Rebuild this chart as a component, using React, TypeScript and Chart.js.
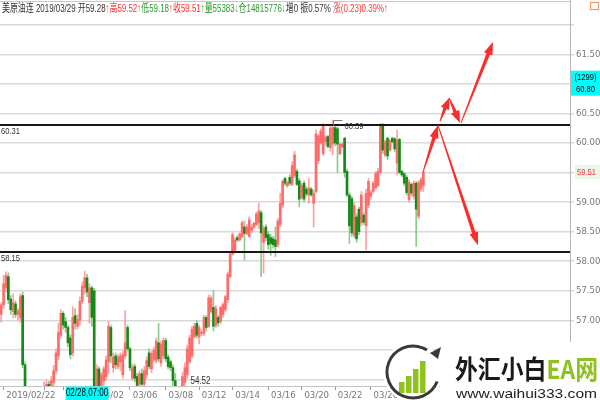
import React, { useEffect, useRef } from 'react';
import { Chart, registerables } from 'chart.js';

Chart.register(...registerables);

// ---- candle data (4 arrays) ----
const candleOpen = [
  57.10, 57.26, 57.55, 57.74, 57.36, 57.15, 57.28, 57.10, 57.05, 57.42,
  56.25, 55.60, 55.30, 55.50, 55.30, 55.55, 55.70, 55.45, 55.60, 55.80,
  55.92, 55.80, 55.95, 56.15, 56.40, 56.75, 57.12, 56.98, 56.88, 56.70,
  56.45, 57.08, 56.90, 57.00, 57.32, 57.55, 57.72, 57.30, 57.55, 57.50,
  55.70, 56.18, 55.88, 55.98, 56.05, 56.30, 56.88, 56.20, 56.40, 56.22,
  56.30, 56.08, 56.40, 56.88, 56.52, 56.02, 56.22, 56.05, 55.92, 56.10,
  55.92, 56.08, 56.45, 56.18, 56.34, 56.32, 56.62, 56.28, 56.40, 56.66,
  56.38, 56.30, 56.20, 55.98, 55.55, 55.10, 55.35, 55.95, 56.08, 56.30,
  56.40, 56.72, 56.95, 56.72, 56.78, 56.78, 57.05, 56.90, 57.15, 57.22,
  56.92, 57.05, 56.98, 57.10, 57.18, 57.35, 57.74, 58.12, 58.18, 58.40,
  58.36, 58.42, 58.58, 58.47, 58.42, 58.52, 58.58, 58.62, 58.65, 58.82,
  58.32, 58.58, 58.45, 58.40, 58.38, 58.36, 58.28, 58.62, 58.95, 59.40,
  59.28, 59.42, 59.30, 59.45, 59.52, 59.36, 59.08, 59.32, 59.22, 59.12,
  59.22, 58.98, 59.18, 59.70, 60.00, 59.82, 60.02, 60.11, 59.92, 59.98,
  60.26, 60.24, 59.82, 59.94, 60.08, 59.52, 59.12, 59.06, 58.44, 58.75,
  58.88, 58.65, 58.78, 58.60, 58.95, 59.10, 59.18, 59.24, 59.28, 59.50,
  60.31, 59.80, 60.08, 59.88, 60.08, 60.07, 59.66, 60.06, 59.52, 59.48,
  59.42, 59.04, 59.30, 59.10, 59.32, 58.76, 59.22, 59.28,
];
const candleHigh = [
  57.30, 57.76, 57.82, 57.80, 57.42, 57.45, 57.33, 57.20, 57.45, 57.48,
  56.30, 55.70, 55.60, 55.65, 55.70, 55.80, 55.78, 55.75, 55.96, 55.99,
  55.97, 56.05, 56.24, 56.52, 56.95, 57.18, 57.15, 57.05, 56.92, 56.75,
  57.23, 57.20, 57.10, 57.40, 57.65, 57.83, 57.78, 57.62, 57.58, 57.54,
  56.25, 56.22, 56.12, 56.22, 56.40, 56.98, 56.92, 56.45, 56.45, 56.42,
  56.45, 56.48, 57.17, 56.92, 56.55, 56.26, 56.26, 56.10, 56.15, 56.18,
  56.22, 56.38, 56.52, 56.48, 56.55, 56.70, 56.95, 56.65, 56.70, 56.70,
  56.42, 56.33, 56.25, 56.10, 55.60, 55.60, 56.12, 56.28, 56.58, 56.75,
  56.90, 56.95, 57.00, 56.92, 56.84, 57.08, 57.08, 57.43, 57.42, 57.51,
  57.25, 57.08, 57.24, 57.30, 57.42, 57.82, 58.15, 58.48, 58.40, 58.43,
  58.48, 58.68, 58.68, 58.62, 58.75, 58.62, 58.66, 58.83, 58.98, 58.86,
  58.60, 58.62, 58.50, 58.46, 58.42, 58.58, 58.72, 59.15, 59.38, 59.42,
  59.36, 59.46, 59.68, 59.86, 59.56, 59.40, 59.32, 59.36, 59.26, 59.40,
  59.25, 59.20, 60.22, 60.15, 60.24, 60.33, 60.12, 60.13, 60.30, 60.39,
  60.30, 60.27, 60.00, 60.00, 60.10, 59.56, 59.16, 59.10, 58.99, 58.80,
  58.92, 59.18, 58.82, 59.22, 59.40, 59.20, 59.35, 59.52, 59.57, 60.33,
  60.33, 60.05, 60.10, 60.06, 60.10, 60.09, 60.22, 60.08, 59.54, 59.50,
  59.45, 59.38, 59.32, 59.36, 59.35, 59.36, 59.42, 59.52,
];
const candleLow = [
  56.97, 57.20, 57.48, 57.28, 57.10, 57.05, 57.05, 57.00, 56.97, 56.20,
  55.40, 55.10, 55.15, 55.20, 55.25, 55.40, 55.35, 55.40, 55.50, 55.60,
  55.70, 55.70, 55.88, 56.10, 56.33, 56.70, 56.85, 56.80, 56.55, 56.35,
  56.40, 56.85, 56.85, 56.92, 57.28, 57.45, 57.40, 56.95, 56.90, 55.50,
  55.55, 55.78, 55.80, 55.90, 55.99, 56.10, 56.28, 56.12, 56.18, 56.18,
  56.15, 56.02, 56.35, 56.48, 56.15, 55.98, 55.96, 55.86, 55.88, 55.85,
  55.86, 56.02, 56.18, 56.12, 56.30, 56.28, 56.30, 56.22, 56.35, 56.30,
  56.18, 56.15, 55.90, 55.40, 54.95, 54.90, 54.52, 55.88, 56.02, 56.28,
  56.36, 56.70, 56.70, 56.60, 56.74, 56.74, 56.82, 56.88, 57.12, 56.82,
  56.88, 56.90, 56.95, 57.05, 57.15, 57.30, 57.72, 58.10, 58.14, 58.33,
  58.34, 58.40, 58.02, 58.45, 58.40, 58.48, 58.55, 58.60, 58.55, 57.74,
  57.80, 58.35, 58.20, 58.10, 58.22, 58.08, 58.24, 58.58, 58.90, 59.28,
  59.25, 59.28, 59.28, 59.42, 59.28, 58.92, 59.05, 59.00, 59.10, 58.98,
  59.10, 58.58, 59.15, 59.65, 59.98, 59.78, 59.96, 59.92, 59.86, 59.80,
  59.95, 59.50, 59.80, 59.92, 59.42, 59.09, 58.30, 58.42, 58.40, 58.32,
  58.45, 58.60, 58.62, 58.19, 58.90, 59.05, 59.15, 59.22, 59.26, 59.48,
  59.82, 59.77, 59.72, 59.86, 60.00, 59.85, 59.46, 59.48, 59.43, 59.28,
  59.12, 59.00, 59.10, 59.05, 58.25, 58.72, 59.18, 59.18,
];
const candleClose = [
  57.26, 57.62, 57.76, 57.35, 57.18, 57.30, 57.10, 57.16, 57.40, 56.25,
  55.60, 55.30, 55.50, 55.30, 55.55, 55.70, 55.45, 55.65, 55.85, 55.92,
  55.80, 55.98, 56.15, 56.45, 56.80, 57.12, 56.92, 56.88, 56.62, 56.42,
  57.05, 56.95, 57.02, 57.32, 57.58, 57.72, 57.48, 57.55, 57.05, 55.70,
  56.18, 55.85, 56.08, 56.18, 56.33, 56.90, 56.40, 56.38, 56.25, 56.38,
  56.40, 56.42, 56.62, 56.52, 56.20, 56.20, 56.02, 55.90, 56.10, 55.92,
  56.15, 56.32, 56.22, 56.44, 56.50, 56.65, 56.35, 56.60, 56.66, 56.35,
  56.22, 56.20, 55.98, 55.55, 55.10, 55.35, 56.05, 56.20, 56.52, 56.70,
  56.85, 56.90, 56.75, 56.88, 56.80, 57.05, 56.88, 57.38, 57.38, 56.90,
  57.20, 56.96, 57.22, 57.27, 57.40, 57.78, 58.12, 58.45, 58.36, 58.36,
  58.46, 58.65, 58.47, 58.58, 58.70, 58.58, 58.64, 58.80, 58.85, 58.48,
  58.55, 58.40, 58.28, 58.30, 58.28, 58.25, 58.68, 58.98, 59.35, 59.32,
  59.33, 59.32, 59.62, 59.80, 59.30, 59.05, 59.28, 59.05, 59.14, 59.24,
  59.12, 59.15, 60.15, 60.12, 60.20, 60.28, 60.10, 59.94, 60.25, 60.26,
  60.00, 59.98, 59.98, 59.98, 59.50, 59.12, 58.60, 58.48, 58.94, 58.38,
  58.50, 59.12, 58.66, 59.15, 59.35, 59.16, 59.32, 59.48, 59.52, 60.28,
  59.88, 60.02, 59.78, 60.04, 60.02, 59.90, 60.05, 59.50, 59.46, 59.32,
  59.16, 59.34, 59.15, 59.32, 58.88, 59.33, 59.38, 59.51,
];

// ---- axes / labels ----
const SLOT_COUNT = 239;
const categories = Array.from({ length: SLOT_COUNT }, (_, i) => `k${i}`);
const xTickIndex = [1, 18, 26, 40, 54, 69, 83, 97, 112, 126, 140, 155];
const xTickText = [' 2019/02/22', '', ' 02/28', ' 03/02', ' 03/06', ' 03/08', ' 03/12', ' 03/14', ' 03/16', ' 03/20', ' 03/22', ' 03/26'];
const yAxisMin = 55.89;
const yAxisMax = 62.08;
const yLabelFrom = 57;
const yLabelTo = 61.5;
const levelLines = [60.31, 58.15];

// crosshair boxes
const crossPrice = 60.8;
const crossCount = '(1299)';
const crossIndex = 36;
const crossTime = '02/28,07:00';

// forecast arrows (category index, price)
const arrowFromIndex = [176.9, 184.0, 187.8, 192.8, 183.15];
const arrowFromPrice = [59.51, 60.37, 60.76, 60.34, 60.30];
const arrowToIndex = [183.15, 187.8, 192.4, 206.2, 199.9];
const arrowToPrice = [60.30, 60.76, 60.34, 61.71, 58.27];

const RED = '#ff3535';
const GRN = '#2f9a2f';
const DARK = '#333333';
const headerParts: [string, string][] = [
  ['美原油连 2019/03/29 开59.28', DARK],
  ['↑', RED], ['高59.52', RED], ['↑', RED], ['低59.18', GRN], ['↑', RED],
  ['收59.51', RED], ['↑', GRN], ['量55383', GRN], ['↓', GRN],
  ['仓14815776', GRN], ['↓', GRN], ['增0 振0.57% ', DARK], ['涨(0.23)0.39%↑', RED],
];

const UP_BODY = '#ff6b6b';
const UP_WICK = '#ffa0a0';
const DN_BODY = '#168a16';
const DN_WICK = '#8ccb8c';
const NARROW = '"Liberation Sans Narrow", "DejaVu Sans Condensed", "Liberation Sans", Arial, sans-serif';
const SANS = '"Liberation Sans", Arial, "Noto Sans CJK SC", sans-serif';
const SQ = 0.8;

function sText(ctx: CanvasRenderingContext2D, text: string, x: number, y: number, color: string, size = 9, align: CanvasTextAlign = 'left') {
  ctx.save();
  ctx.font = `${size}px ${SANS}`;
  ctx.fillStyle = color;
  ctx.textBaseline = 'middle';
  ctx.textAlign = align;
  ctx.translate(x, y);
  ctx.scale(SQ, 1);
  ctx.fillText(text, 0, 0);
  ctx.restore();
}

function drawArrow(ctx: CanvasRenderingContext2D, x0: number, y0: number, x1: number, y1: number) {
  const dx = x1 - x0, dy = y1 - y0;
  const len = Math.hypot(dx, dy);
  const ux = dx / len, uy = dy / len;
  const nx = -uy, ny = ux;
  const headL = Math.min(13, len * 0.45);
  const headW = 4.5;
  const bx = x1 - ux * headL, by = y1 - uy * headL;
  const w0 = 0.5, w1 = 1.8;
  ctx.beginPath();
  ctx.moveTo(x0 + nx * w0, y0 + ny * w0);
  ctx.lineTo(bx + nx * w1, by + ny * w1);
  ctx.lineTo(bx + nx * headW, by + ny * headW);
  ctx.lineTo(x1, y1);
  ctx.lineTo(bx - nx * headW, by - ny * headW);
  ctx.lineTo(bx - nx * w1, by - ny * w1);
  ctx.lineTo(x0 - nx * w0, y0 - ny * w0);
  ctx.closePath();
  ctx.fill();
}

const decorPlugin = {
  id: 'decor',
  afterDatasetsDraw(chart: any) {
    const { ctx, chartArea: a } = chart;
    const xs = chart.scales.x, ys = chart.scales.y;
    ctx.save();
    levelLines.forEach((v) => {
      const py = Math.round(ys.getPixelForValue(v));
      ctx.strokeStyle = '#161616';
      ctx.lineWidth = 2;
      ctx.beginPath();
      ctx.moveTo(a.left, py);
      ctx.lineTo(a.right, py);
      ctx.stroke();
      sText(ctx, v.toFixed(2), a.left + 1, py + 6.5, DARK, 9.5);
    });
    let hi = 0, lo = 0;
    candleHigh.forEach((v, i) => { if (v > candleHigh[hi]) hi = i; });
    candleLow.forEach((v, i) => { if (v < candleLow[lo]) lo = i; });
    const hx = Math.round(xs.getPixelForValue(hi)) + 0.5;
    const hy = Math.round(ys.getPixelForValue(candleHigh[hi])) + 0.5;
    ctx.strokeStyle = '#777';
    ctx.lineWidth = 1;
    ctx.beginPath();
    ctx.moveTo(hx, hy + 5);
    ctx.lineTo(hx, hy);
    ctx.lineTo(hx + 9, hy);
    ctx.stroke();
    sText(ctx, candleHigh[hi].toFixed(2), hx + 11, hy + 5.5, DARK, 9.5);
    const lx = xs.getPixelForValue(lo);
    sText(ctx, candleLow[lo].toFixed(2), lx + 8, a.bottom - 5, DARK, 10);
    ctx.fillStyle = '#ff2a2a';
    arrowFromIndex.forEach((fi, k) => {
      drawArrow(ctx,
        xs.getPixelForValue(fi), ys.getPixelForValue(arrowFromPrice[k]),
        xs.getPixelForValue(arrowToIndex[k]), ys.getPixelForValue(arrowToPrice[k]));
    });
    ctx.restore();
  },
  afterDraw(chart: any) {
    const { ctx, chartArea: a } = chart;
    const xs = chart.scales.x, ys = chart.scales.y;
    const W = chart.width, H = chart.height;
    ctx.save();
    // frame top line and axis extension
    ctx.strokeStyle = '#c8c8c8';
    ctx.lineWidth = 1;
    ctx.beginPath();
    ctx.moveTo(0, 1.5);
    ctx.lineTo(a.right, 1.5);
    ctx.stroke();
    ctx.strokeStyle = '#b5b5b5';
    ctx.beginPath();
    ctx.moveTo(a.right + 0.5, 0);
    ctx.lineTo(a.right + 0.5, a.top);
    ctx.stroke();
    // orange icon
    ctx.strokeStyle = '#f39a6b';
    ctx.lineWidth = 1.2;
    ctx.strokeRect(590.5, 2.5, 8, 7);

    // header
    ctx.font = `11.5px ${SANS}`;
    const widths = headerParts.map(([t]) => ctx.measureText(t).width);
    const total = widths.reduce((s, w) => s + w, 0);
    ctx.save();
    ctx.textBaseline = 'middle';
    ctx.translate(2, 9);
    ctx.scale(386 / total, 1);
    let cx = 0;
    headerParts.forEach(([t, c], k) => {
      ctx.fillStyle = c;
      ctx.fillText(t, cx, 0);
      cx += widths[k];
    });
    ctx.restore();

    // last price tag
    const last = candleClose[candleClose.length - 1];
    const ly = ys.getPixelForValue(last);
    ctx.fillStyle = '#eaf6ea';
    ctx.fillRect(a.right + 5, ly - 7, W - a.right - 5, 14);
    sText(ctx, last.toFixed(2), a.right + 7, ly, RED, 9.5);

    // crosshair price box
    const cy = ys.getPixelForValue(crossPrice);
    ctx.fillStyle = '#00ffff';
    ctx.fillRect(a.right + 1, cy - 25, W - a.right - 1, 25);
    sText(ctx, crossCount, a.right + 15.5, cy - 18, '#000', 9.5, 'center');
    sText(ctx, crossPrice.toFixed(2), a.right + 15.5, cy - 6.5, '#000', 9.5, 'center');

    // crosshair time box
    const tx = xs.getPixelForValue(crossIndex);
    ctx.fillStyle = '#00ffff';
    ctx.fillRect(tx - 21.5, a.bottom + 0.5, 43, H - a.bottom);
    sText(ctx, crossTime, tx, a.bottom + 7.5, '#000', 10, 'center');

    // watermark
    ctx.fillStyle = '#ffffff';
    ctx.fillRect(440, 342, 160, 58);
    ctx.beginPath();
    ctx.arc(413, 372, 30, 0, Math.PI * 2);
    ctx.fill();
    ctx.fillStyle = '#8dc21f';
    [[399, 382], [406, 376], [413, 369], [420, 361]].forEach(([bx, top]) => {
      ctx.fillRect(bx, top, 5.5, 393 - top);
    });
    ctx.strokeStyle = '#3a3a3a';
    ctx.lineWidth = 3;
    ctx.beginPath();
    ctx.arc(413, 372, 26, 0.12 * Math.PI, 1.68 * Math.PI);
    ctx.stroke();
    ctx.beginPath();
    ctx.moveTo(430, 353);
    ctx.lineTo(441, 347);
    ctx.lineTo(438, 359);
    ctx.closePath();
    ctx.fillStyle = '#3a3a3a';
    ctx.fill();

    ctx.font = `bold 26px "Noto Sans CJK SC", sans-serif`;
    const w1 = ctx.measureText('外汇小白').width;
    const w2 = ctx.measureText('EA网').width;
    const s1 = 143 / (w1 + w2);
    ctx.save();
    ctx.textBaseline = 'middle';
    ctx.translate(455, 369);
    ctx.scale(s1, 1);
    ctx.fillStyle = '#1a1a1a';
    ctx.fillText('外汇小白', 0, 0);
    ctx.fillStyle = '#8dc21f';
    ctx.fillText('EA网', w1, 0);
    ctx.restore();
    ctx.font = `13px ${SANS}`;
    const w3 = ctx.measureText('www.waihui333.com').width;
    ctx.save();
    ctx.textBaseline = 'middle';
    ctx.translate(456, 394);
    ctx.scale(141 / w3, 1);
    ctx.fillStyle = '#222';
    ctx.fillText('www.waihui333.com', 0, 0);
    ctx.restore();
    ctx.restore();
  },
};

export default function App() {
  const ref = useRef<HTMLCanvasElement>(null);
  useEffect(() => {
    const canvas = ref.current;
    if (!canvas) return;
    const isUp = (i: number) => candleClose[i] >= candleOpen[i];
    const chart = new Chart(canvas, {
      type: 'bar',
      data: {
        labels: categories,
        datasets: [
          {
            label: 'body',
            data: candleOpen.map((o, i) => [o, candleClose[i]]),
            backgroundColor: (c: any) => (isUp(c.dataIndex) ? UP_BODY : DN_BODY),
            barThickness: 2,
            minBarLength: 1,
            grouped: false,
            clip: 0,
            borderWidth: 0,
          } as any,
          {
            label: 'wick',
            data: candleLow.map((l, i) => [l, candleHigh[i]]),
            backgroundColor: (c: any) => (isUp(c.dataIndex) ? UP_WICK : DN_WICK),
            barThickness: 1,
            grouped: false,
            clip: 0,
            borderWidth: 0,
          } as any,
        ],
      },
      options: {
        responsive: false,
        animation: false,
        devicePixelRatio: 1,
        layout: { padding: { top: 20, left: 0, right: 0, bottom: 0 } },
        plugins: { legend: { display: false }, tooltip: { enabled: false } },
        scales: {
          x: {
            type: 'category',
            offset: true,
            grid: {
              display: true,
              drawOnChartArea: false,
              drawTicks: true,
              tickLength: 4,
              offset: false,
              color: (c: any) => (xTickIndex.includes(c.index) ? '#999' : 'rgba(0,0,0,0)'),
            },
            border: { display: true, color: '#c4c4c4' },
            ticks: {
              autoSkip: false,
              maxRotation: 0,
              minRotation: 0,
              align: 'start',
              padding: 0,
              color: '#777',
              font: { size: 9.5, family: NARROW },
              callback: (_v: any, i: number) => {
                const k = xTickIndex.indexOf(i);
                return k >= 0 ? xTickText[k] : '';
              },
            },
            afterFit: (s: any) => { s.height = 14; s.paddingLeft = 0; s.paddingRight = 0; },
          },
          y: {
            position: 'right',
            min: yAxisMin,
            max: yAxisMax,
            grid: { color: '#d9d9d9', lineWidth: 1.5, tickLength: 4, drawTicks: true },
            border: { display: true, color: '#b5b5b5' },
            ticks: {
              stepSize: 0.5,
              includeBounds: false,
              padding: 2,
              color: '#777',
              font: { size: 9.5, family: NARROW },
              callback: (v: any) => (v >= yLabelFrom && v <= yLabelTo ? Number(v).toFixed(2) : ''),
            },
            afterFit: (s: any) => { s.width = 30; s.paddingTop = 0; s.paddingBottom = 0; },
          },
        },
      } as any,
      plugins: [decorPlugin],
    });
    return () => chart.destroy();
  }, []);
  return (
    <div style={{ position: 'fixed', left: 0, top: 0, width: 600, height: 400, background: '#fff' }}>
      <canvas ref={ref} width={600} height={400} style={{ width: 600, height: 400, display: 'block' }} />
    </div>
  );
}
